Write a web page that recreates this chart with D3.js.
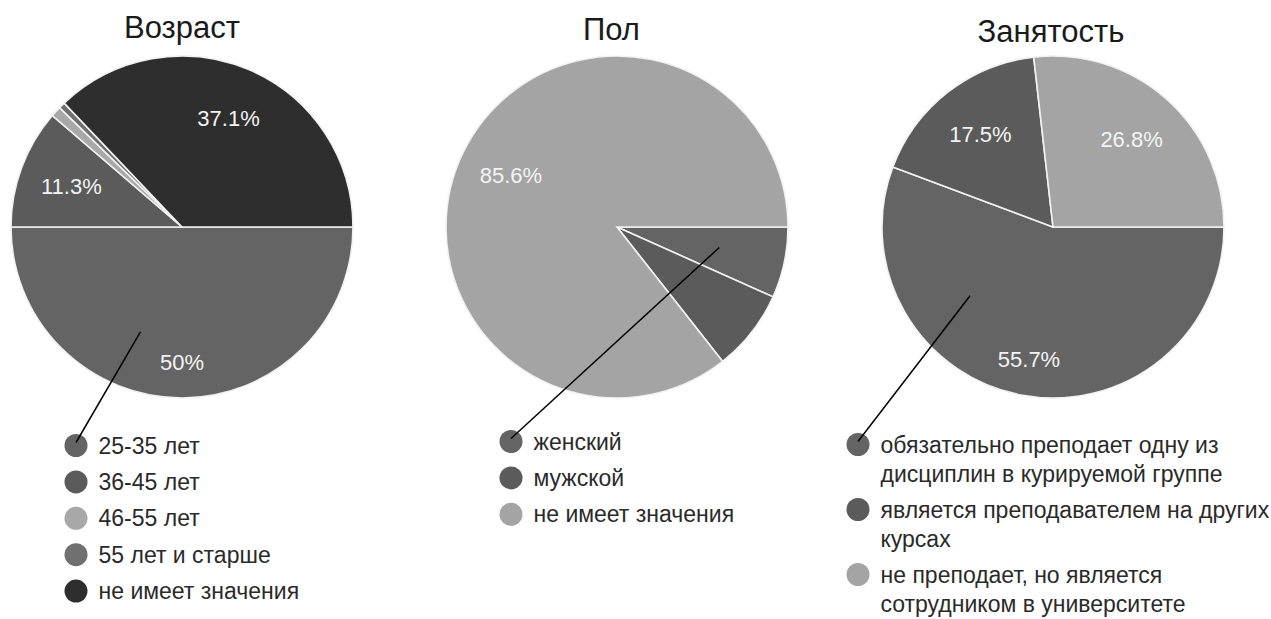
<!DOCTYPE html>
<html><head><meta charset="utf-8">
<script src="https://cdn.jsdelivr.net/npm/d3@7/dist/d3.min.js"></script>
<style>
html,body{margin:0;padding:0;background:#fff;}
svg{display:block;font-family:"Liberation Sans",Arial,sans-serif;}
</style></head>
<body>
<svg id="c" width="1271" height="619"></svg>
<script>
// ---- data ----
const titles = ["Возраст", "Пол", "Занятость"];

const ageCategories = ["25-35 лет", "36-45 лет", "46-55 лет", "55 лет и старше", "не имеет значения"];
const ageValues = [50, 11.3, 1.0, 0.6, 37.1];

const genderCategories = ["женский", "мужской", "не имеет значения"];
const genderValues = [6.7, 7.7, 85.6];

const jobCategories = ["обязательно преподает одну из дисциплин в курируемой группе",
                       "является преподавателем на других курсах",
                       "не преподает, но является сотрудником в университете"];
const jobValues = [55.7, 17.5, 26.8];

const ageColors = ["#646464", "#5b5b5b", "#a8a8a8", "#707070", "#2e2e2e"];
const genderColors = ["#646464", "#5b5b5b", "#a4a4a4"];
const jobColors = ["#646464", "#5b5b5b", "#a4a4a4"];

// ---- layout ----
const layout = [
  {cx:182, cy:227, r:171, tx:182, titleY:38, legX:76, legY:445.5, wrap:400, itemStep:36.4, lineStep:30.5, ptr:{a:0.62, rf:0.66}},
  {cx:617, cy:227, r:171, tx:611.5, titleY:40, legX:511, legY:441.5, wrap:400, itemStep:36.4, lineStep:30.5, ptr:{a:0.47, rf:0.61}},
  {cx:1053, cy:227, r:171, tx:1051, titleY:42, legX:858, legY:444.5, wrap:395, itemStep:35.5, lineStep:29.5, ptr:{a:0.70, rf:0.63}}
];

const charts = [
  {cats: ageCategories, vals: ageValues, cols: ageColors},
  {cats: genderCategories, vals: genderValues, cols: genderColors},
  {cats: jobCategories, vals: jobValues, cols: jobColors}
];

const svg = d3.select("#c");

charts.forEach((ch, i) => {
  const L = layout[i];
  const g = svg.append("g");
  const total = d3.sum(ch.vals);
  const color = d3.scaleOrdinal().domain(ch.cats).range(ch.cols);
  const pie = d3.pie().sort(null).value(d => d.v)
      .startAngle(Math.PI/2).endAngle(Math.PI/2 + 2*Math.PI);
  const data = ch.cats.map((c, k) => ({c, v: ch.vals[k]}));
  const arcs = pie(data);
  const arc = d3.arc().innerRadius(0).outerRadius(L.r);

  g.append("text").attr("x", L.tx).attr("y", L.titleY)
    .attr("text-anchor", "middle").attr("font-size", 31).attr("fill", "#1a1a1a")
    .text(titles[i]);

  const pg = g.append("g").attr("transform", `translate(${L.cx},${L.cy})`);
  pg.selectAll("path").data(arcs).join("path")
    .attr("d", arc).attr("fill", d => color(d.data.c))
    .attr("stroke", "#f2f2f2").attr("stroke-width", 1.6);

  // percentage labels (small slices are not labelled)
  pg.selectAll("text.lbl").data(arcs.filter(d => d.data.v / total >= 0.1)).join("text")
    .attr("class", "lbl")
    .each(function(d){
      const a = (d.startAngle + d.endAngle)/2;
      const lr = L.r*0.69 + L.r*0.1*Math.max(0, -Math.cos(a));
      d3.select(this).attr("x", Math.sin(a)*lr).attr("y", -Math.cos(a)*lr);
    })
    .attr("text-anchor", "middle").attr("dominant-baseline", "central")
    .attr("font-size", 22).attr("fill", "#f4f4f4")
    .text(d => d3.format(".3~r")(d.data.v) + "%");

  // legend
  const lg = g.append("g");
  let y = L.legY;
  const legendPts = [];
  const mkText = (yy, s) => lg.append("text").attr("x", L.legX + 22.5).attr("y", yy)
      .attr("dominant-baseline", "central").attr("font-size", 23).attr("fill", "#2a2a2a").text(s);
  ch.cats.forEach((c, k) => {
    lg.append("circle").attr("cx", L.legX).attr("cy", y).attr("r", 11.5).attr("fill", color(c));
    legendPts.push([L.legX, y]);
    const words = c.split(" ");
    let line = [];
    let t = mkText(y, "");
    words.forEach(w => {
      line.push(w);
      t.text(line.join(" "));
      if (t.node().getComputedTextLength() > L.wrap && line.length > 1) {
        line.pop();
        t.text(line.join(" "));
        line = [w];
        y += L.lineStep;
        t = mkText(y, w);
      }
    });
    y += L.itemStep;
  });

  // pointer line from first slice to first legend marker
  const s = arcs[0];
  const pa = s.startAngle + (s.endAngle - s.startAngle) * L.ptr.a;
  const pr = L.r * L.ptr.rf;
  g.append("line")
    .attr("x1", L.cx + Math.sin(pa)*pr).attr("y1", L.cy - Math.cos(pa)*pr)
    .attr("x2", legendPts[0][0]).attr("y2", legendPts[0][1] - 3)
    .attr("stroke", "#000").attr("stroke-width", 1.5);
});
</script>
</body></html>
